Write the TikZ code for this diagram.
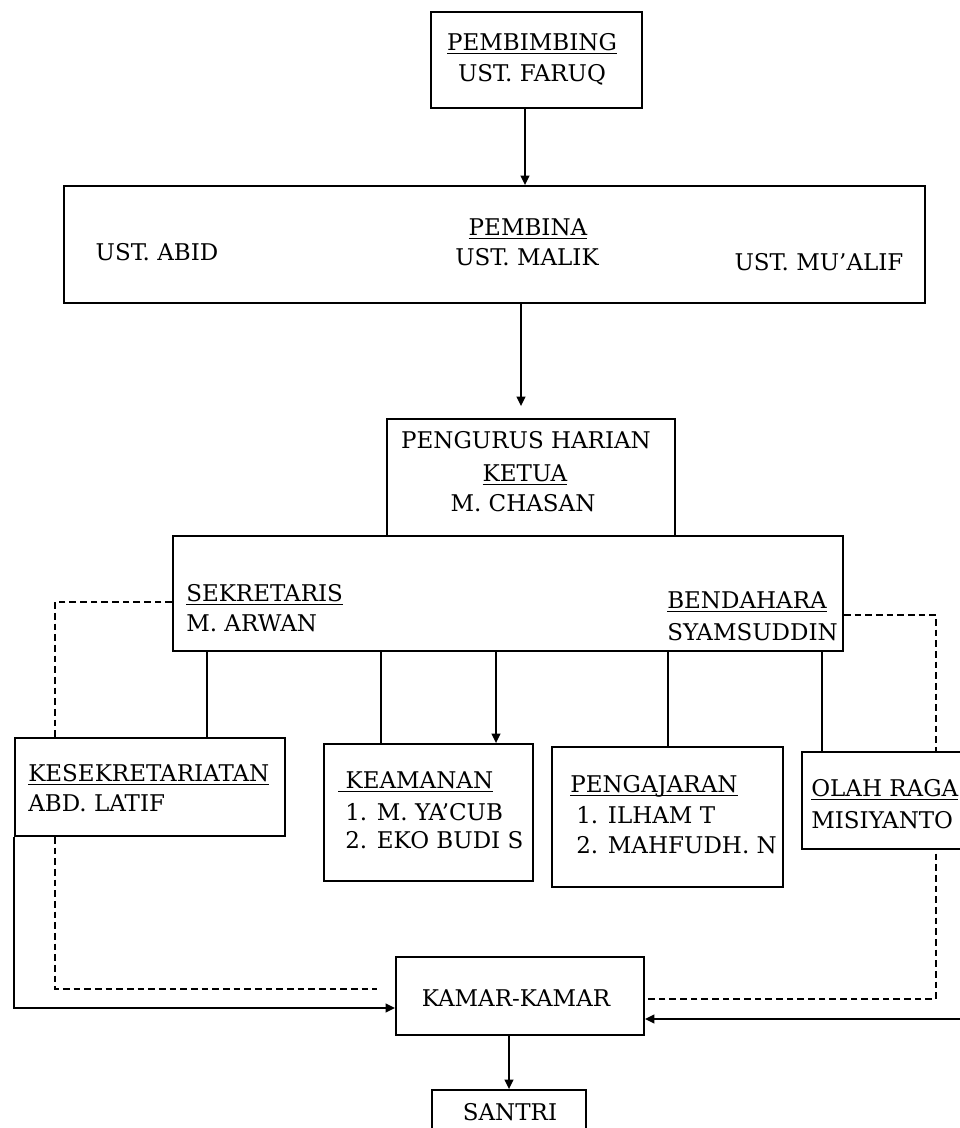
\documentclass[tikz,border=0pt]{standalone}
\usepackage{fontspec}
\setmainfont{DejaVu Serif}
\usetikzlibrary{arrows.meta,fit,backgrounds}
\newcommand{\ulx}[1]{\leavevmode\setbox0=\hbox{#1}\rlap{\rule[-3.2pt]{\wd0}{1.1pt}}\box0}
\begin{document}
\begin{tikzpicture}[x=0.75pt,y=-0.75pt,
  every node/.style={font=\fontsize{17.25}{20}\selectfont},
  box/.style={draw, line width=1.4pt, fill=white, inner sep=0pt},
  txt/.style={inner sep=0pt, anchor=base west},
  ctxt/.style={inner sep=0pt, anchor=base},
  link/.style={line width=1.7pt},
  arr/.style={line width=1pt, -{Triangle[length=7pt,width=6.5pt]}},
  feed/.style={line width=1.4pt, -{Triangle[length=7pt,width=6.5pt]}},
  dsh/.style={line width=1.3pt, dash pattern=on 5pt off 3pt}]
\useasboundingbox (0,0) rectangle (960,1128);
\clip (0,0) rectangle (960,1128);

% boxes
\node[box, fit={(431,12) (642,108)}] (pembimbing) {};
\node[box, fit={(64,186) (925,303)}] (pembina) {};
\node[box, fit={(387,419) (675,536)}] (pengurus) {};
\node[box, fit={(173,536) (843,651)}] (sekben) {};
\node[box, fit={(15,738) (285,836)}] (kesek) {};
\node[box, fit={(324,744) (533,881)}] (keamanan) {};
\node[box, fit={(552,747) (783,887)}] (pengajaran) {};
\node[box, fit={(802,752) (990,849)}] (olahraga) {};
\node[box, fit={(396,957) (644,1035)}] (kamar) {};
\node[box, fit={(432,1090) (586,1170)}] (santri) {};

% texts
\node[ctxt] (t1) at (532,50) {\ulx{PEMBIMBING}};
\node[ctxt] (t2) at (532,81) {UST. FARUQ};
\node[ctxt] (t3) at (528,235) {\ulx{PEMBINA}};
\node[ctxt] (t4) at (527,265) {UST. MALIK};
\node[ctxt] (t5) at (157,260) {UST. ABID};
\node[ctxt] (t6) at (819,270) {UST. MU’ALIF};
\node[ctxt] (t7) at (526,448) {PENGURUS HARIAN};
\node[ctxt] (t8) at (525,481) {\ulx{KETUA}};
\node[ctxt] (t9) at (523,511) {M. CHASAN};
\node[txt] (t10) at (186,601) {\ulx{SEKRETARIS}};
\node[txt] (t11) at (186,631) {M. ARWAN};
\node[txt] (t12) at (667,608) {\ulx{BENDAHARA}};
\node[txt] (t13) at (667,640) {SYAMSUDDIN};
\node[txt] (t14) at (28,781) {\ulx{KESEKRETARIATAN}};
\node[txt] (t15) at (28,811) {ABD. LATIF};
\node[txt] (t16) at (338,788) {\ulx{\ KEAMANAN}};
\node[txt] (t17) at (345,820) {1. M. YA’CUB};
\node[txt] (t18) at (345,848) {2. EKO BUDI S};
\node[txt] (t19) at (570,792) {\ulx{PENGAJARAN}};
\node[txt] (t20) at (576,823) {1. ILHAM T};
\node[txt] (t21) at (576,853) {2. MAHFUDH. N};
\node[txt] (t22) at (811,796) {\ulx{OLAH RAGA}};
\node[txt] (t23) at (811,828) {MISIYANTO};
\node[ctxt] (t24) at (516,1006) {KAMAR-KAMAR};
\node[ctxt] (t25) at (510,1120) {SANTRI};

% x positions of vertical connectors
\coordinate (xa) at (525,0);
\coordinate (xb) at (521,0);
\coordinate (x1) at (207,0);
\coordinate (x2) at (381,0);
\coordinate (x3) at (496,0);
\coordinate (x4) at (668,0);
\coordinate (x5) at (822,0);
\coordinate (x6) at (509,0);

\draw[arr] (pembimbing.south -| xa) -- (pembina.north -| xa);
\draw[arr, shorten >=9pt] (pembina.south -| xb) -- (pengurus.north -| xb);
\draw[link] (sekben.south -| x1) -- (kesek.north -| x1);
\draw[link] (sekben.south -| x2) -- (keamanan.north -| x2);
\draw[arr] (sekben.south -| x3) -- (keamanan.north -| x3);
\draw[link] (sekben.south -| x4) -- (pengajaran.north -| x4);
\draw[link] (sekben.south -| x5) -- (olahraga.north -| x5);
\draw[arr] (kamar.south -| x6) -- (santri.north -| x6);

% solid feeds into KAMAR-KAMAR
\coordinate (ya) at (0,1008);
\draw[feed] (kesek.south west) -- (kesek.south west |- ya) -- (kamar.west |- ya);
\coordinate (rin) at (975,1019);
\draw[feed] (rin) -- (kamar.east |- rin);

% dashed lines (behind boxes)
\begin{pgfonlayer}{background}
\coordinate (dl) at (55,602);
\coordinate (dle) at (377,989);
\draw[dsh] (sekben.west |- dl) -- (dl) -- (dl |- dle) -- (dle);
\coordinate (dr) at (936,615);
\coordinate (dre) at (0,999);
\draw[dsh] (sekben.east |- dr) -- (dr) -- (dr |- dre) -- (kamar.east |- dre);
\end{pgfonlayer}
\end{tikzpicture}
\end{document}
